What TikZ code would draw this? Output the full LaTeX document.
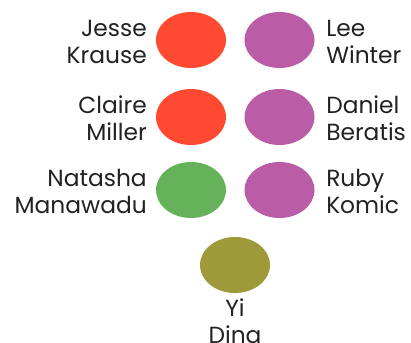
\documentclass[tikz,border=0pt]{standalone}
\usepackage{fontspec}
\setmainfont{Poppins}
\usetikzlibrary{shapes.geometric}
\definecolor{cred}{HTML}{FF4A31}
\definecolor{cpurple}{HTML}{BA5CA6}
\definecolor{cgreen}{HTML}{66B25A}
\definecolor{colive}{HTML}{9E9A39}
\definecolor{ctext}{HTML}{222222}
\begin{document}
\begin{tikzpicture}[x=0.75pt,y=-0.75pt,
  blob/.style={ellipse,minimum width=52.5pt,minimum height=42pt,inner sep=0pt,draw=none},
  lbl/.style={inner sep=0pt,text=ctext,font=\fontsize{17.5}{20.25}\selectfont},
  lblr/.style={lbl,align=right,anchor=base east},
  lbll/.style={lbl,align=left,anchor=base west},
  lblc/.style={lbl,align=center,anchor=base}]
\useasboundingbox (0,0) rectangle (411,343);
\node[blob,fill=cred] (jesse) at (191,40) {};
\node[blob,fill=cpurple] (lee) at (279.5,40) {};
\node[blob,fill=cred] (claire) at (191,117) {};
\node[blob,fill=cpurple] (daniel) at (279.5,117) {};
\node[blob,fill=cgreen] (natasha) at (191,190) {};
\node[blob,fill=cpurple] (ruby) at (279.5,190) {};
\node[blob,fill=colive] (yi) at (235,265) {};
\node[lblr] (tjesse) at (147,63) {Jesse\\Krause};
\node[lblr] (tclaire) at (147,140) {Claire\\Miller};
\node[lblr] (tnatasha) at (147,213) {Natasha\\Manawadu};
\node[lbll] (tlee) at (326,63) {Lee\\Winter};
\node[lbll] (tdaniel) at (326,140) {Daniel\\Beratis};
\node[lbll] (truby) at (326,213) {Ruby\\Komic};
\node[lblc] (tyi) at (235,343) {Yi\\Ding};
\end{tikzpicture}
\end{document}
